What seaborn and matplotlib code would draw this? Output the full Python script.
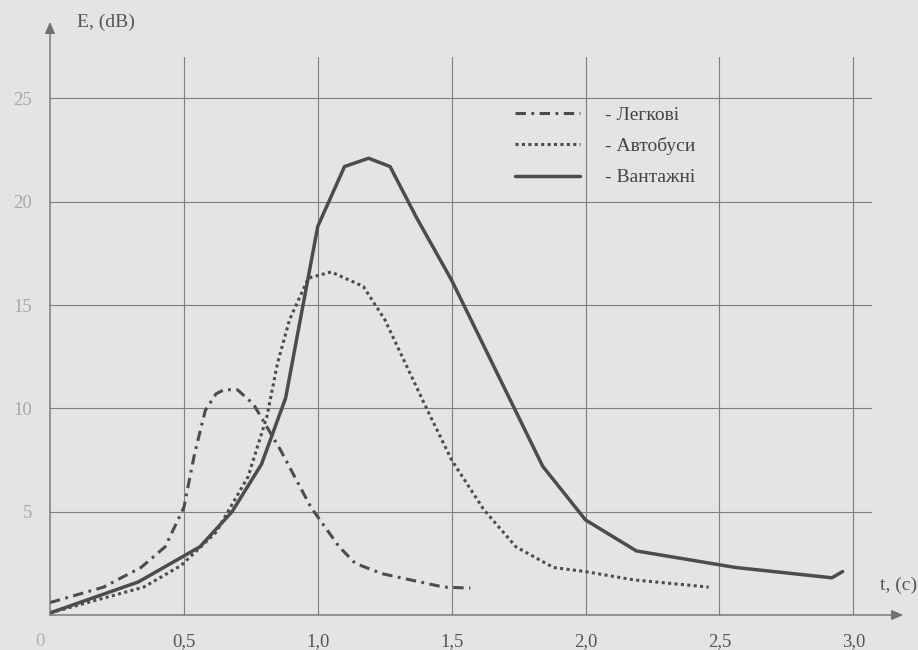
import numpy as np
import pandas as pd
import seaborn as sns
import matplotlib.pyplot as plt
from matplotlib.transforms import blended_transform_factory

# Легкові (dash-dot)
t_cars = [0.0, 0.2, 0.34, 0.43, 0.5, 0.54, 0.58, 0.62, 0.65, 0.7, 0.76, 0.86, 0.975, 1.08, 1.14, 1.24, 1.47, 1.57]
e_cars = [0.6, 1.35, 2.3, 3.3, 5.2, 7.8, 9.9, 10.7, 10.9, 10.9, 10.2, 8.0, 5.2, 3.3, 2.5, 2.0, 1.35, 1.3]

# Автобуси (dotted)
t_bus = [0.0, 0.35, 0.49, 0.62, 0.74, 0.81, 0.85, 0.895, 0.965, 1.05, 1.17, 1.25, 1.41, 1.5, 1.62, 1.74, 1.88,
         2.0, 2.18, 2.46]
e_bus = [0.1, 1.35, 2.4, 4.0, 6.7, 9.6, 12.2, 14.3, 16.3, 16.6, 15.9, 14.3, 9.9, 7.5, 5.1, 3.3, 2.3,
         2.1, 1.7, 1.35]

# Вантажні (solid)
t_truck = [0.0, 0.33, 0.56, 0.68, 0.79, 0.88, 1.0, 1.1, 1.19, 1.27, 1.37, 1.5, 1.84, 2.0, 2.19, 2.56, 2.92, 2.96]
e_truck = [0.1, 1.6, 3.3, 5.0, 7.3, 10.5, 18.8, 21.7, 22.1, 21.7, 19.2, 16.2, 7.2, 4.6, 3.1, 2.3, 1.8, 2.1]

x_ticks = [0.5, 1.0, 1.5, 2.0, 2.5, 3.0]
x_labels = ['0,5', '1,0', '1,5', '2,0', '2,5', '3,0']
y_ticks = [5, 10, 15, 20, 25]
labels = ['- Легкові', '- Автобуси', '- Вантажні']

bg = '#e4e4e6'
ink = '#4c4c4c'

sns.set_style("white")
plt.rcParams['font.family'] = ['Liberation Serif', 'DejaVu Serif']

fig = plt.figure(figsize=(9.18, 6.5), dpi=100, facecolor=bg)
ax = fig.add_axes([50 / 918, 35 / 650, 822 / 918, 558 / 650])
ax.set_facecolor(bg)

cars = pd.DataFrame({'t': t_cars, 'e': e_cars})
bus = pd.DataFrame({'t': t_bus, 'e': e_bus})
truck = pd.DataFrame({'t': t_truck, 'e': e_truck})

sns.lineplot(data=cars, x='t', y='e', ax=ax, color=ink, lw=2.2, estimator=None, sort=False,
             linestyle=(0, (3.4, 1.8, 0.9, 1.8)), label=labels[0])
sns.lineplot(data=bus, x='t', y='e', ax=ax, color=ink, lw=2.2, estimator=None, sort=False,
             linestyle=(0, (1.0, 1.1)), label=labels[1])
sns.lineplot(data=truck, x='t', y='e', ax=ax, color=ink, lw=2.5, estimator=None, sort=False,
             linestyle='-', label=labels[2])

ax.set_xlim(0, 3.07)
ax.set_ylim(0, 27)
ax.set_xticks(x_ticks)
ax.set_xticklabels(x_labels)
ax.set_yticks(y_ticks)
ax.tick_params(length=0, pad=13, labelsize=13.5)
for lab in ax.get_xticklabels():
    lab.set_color('#555555')
for lab in ax.get_yticklabels():
    lab.set_color('#a8a8a8')
ax.set_xlabel('')
ax.set_ylabel('')

# сітка
for xv in x_ticks:
    ax.axvline(xv, color='#808080', lw=0.8, zorder=0)
for yv in y_ticks:
    ax.axhline(yv, color='#808080', lw=0.8, zorder=0)

for s in ax.spines.values():
    s.set_visible(False)

# осі зі стрілками
arrow = dict(arrowstyle='-|>,head_length=0.7,head_width=0.3', color='#707070', lw=1.0, shrinkA=0, shrinkB=0)
ax.annotate('', xy=(0, 1.063), xytext=(0, 0), xycoords='axes fraction', arrowprops=arrow)
ax.annotate('', xy=(1.038, 0), xytext=(0, 0), xycoords='axes fraction', arrowprops=arrow)

trans = blended_transform_factory(ax.transData, ax.transAxes)
ax.text(-0.037, -0.048, '0', transform=trans, ha='center', va='center', fontsize=13.5, color='#b0b0b0')

fig.text(77 / 918, 1 - 22 / 650, 'E, (dB)', ha='left', va='center', fontsize=14, color='#555555')
fig.text(880 / 918, 1 - 585 / 650, 't, (c)', ha='left', va='center', fontsize=14, color='#555555')

ax.legend(loc='upper left', bbox_to_anchor=(515 / 918, 1 - 106 / 650), bbox_transform=fig.transFigure,
          frameon=False, fontsize=14, handlelength=3.35, handletextpad=1.3, labelspacing=0.7,
          borderpad=0, borderaxespad=0, labelcolor='#444444')

fig.savefig('out.png', dpi=100, facecolor=bg)
